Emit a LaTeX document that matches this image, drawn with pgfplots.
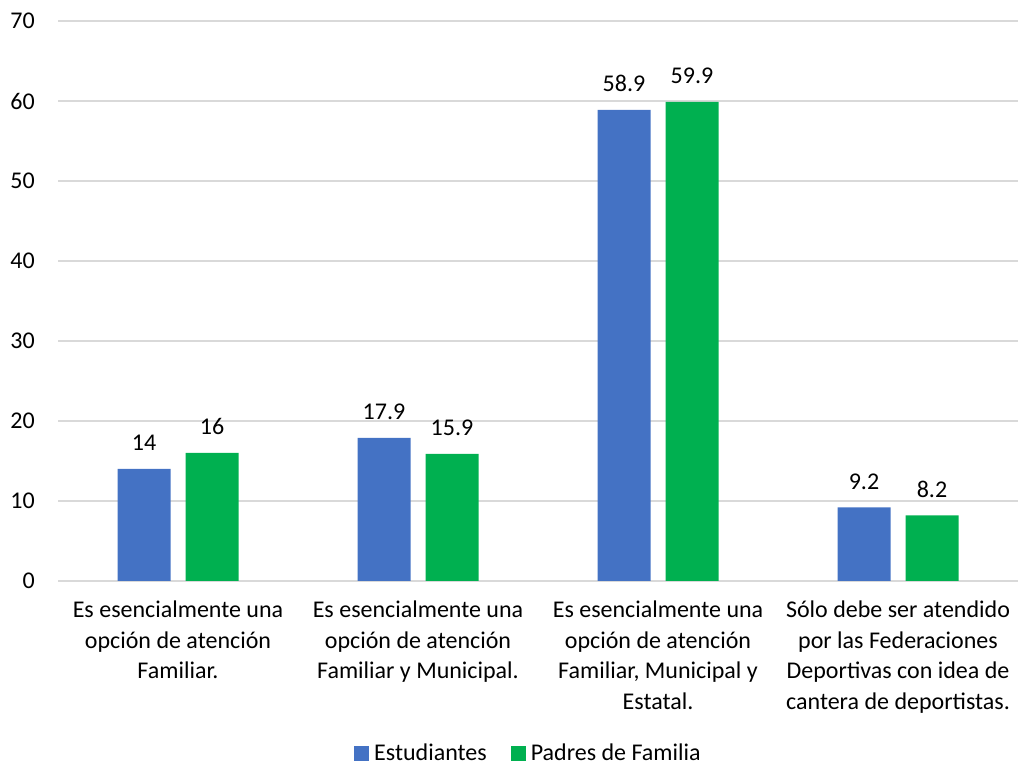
\documentclass[border=0pt]{standalone}
\usepackage{pgfplots}
\pgfplotsset{compat=1.18}
\usepackage{fontspec}
\setmainfont{Carlito}
\definecolor{cblue}{RGB}{68,114,196}
\definecolor{cgreen}{RGB}{0,176,80}
\definecolor{cgrid}{RGB}{217,217,217}
\begin{document}
\fontsize{24bp}{30.5bp}\selectfont
\begin{tikzpicture}
\path[use as bounding box] (0,0) rectangle (1018bp,767bp);
\begin{axis}[
  at={(58bp,186bp)}, anchor=south west,
  scale only axis, width=960bp, height=560bp,
  ybar=15bp, bar width=53bp,
  xmin=-0.5, xmax=3.5, ymin=0, ymax=70,
  ytick={0,10,...,70},
  xtick={0,1,2,3},
  xticklabels={{Es esencialmente una\\opción de atención\\Familiar.},
               {Es esencialmente una\\opción de atención\\Familiar y Municipal.},
               {Es esencialmente una\\opción de atención\\Familiar, Municipal y\\Estatal.},
               {Sólo debe ser atendido\\por las Federaciones\\Deportivas con idea de\\cantera de deportistas.}},
  x tick label style={align=center, font=\fontsize{24bp}{30.5bp}\selectfont, yshift=-12bp},
  y tick label style={font=\fontsize{24bp}{25bp}\selectfont, xshift=-15bp},
  /pgf/number format/assume math mode=true,
  major tick length=0pt,
  axis x line*=bottom, axis y line*=left,
  x axis line style={draw=cgrid, line width=1.5bp},
  y axis line style={draw=none},
  ymajorgrids, grid style={draw=cgrid, line width=1.5bp},
  nodes near coords,
  nodes near coords style={font=\fontsize{24bp}{25bp}\selectfont, black, yshift=10bp},
  legend style={at={(axis description cs:0.49,-0.308)}, anchor=center, draw=none,
    legend columns=2, font=\fontsize{24bp}{25bp}\selectfont,
    /tikz/every odd column/.append style={column sep=3bp},
    /tikz/every even column/.append style={column sep=22bp}},
  legend image code/.code={\fill[#1] (0bp,-7.5bp) rectangle (15bp,7.5bp);},
]
\addplot[fill=cblue, draw=none] coordinates {(0,14) (1,17.9) (2,58.9) (3,9.2)};
\addplot[fill=cgreen, draw=none] coordinates {(0,16) (1,15.9) (2,59.9) (3,8.2)};
\legend{Estudiantes, Padres de Familia}
\end{axis}
\end{tikzpicture}
\end{document}
